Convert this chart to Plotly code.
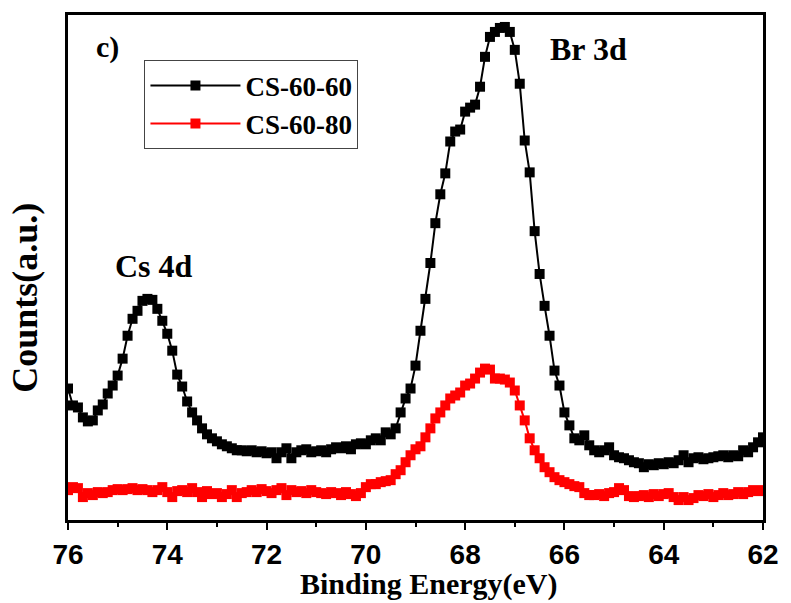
import plotly.graph_objects as go

# Binding energy grid (eV), 0.1 eV step from 76.0 down to 62.0
energy = [round(76.0 - 0.1 * i, 1) for i in range(141)]

cs_60_60 = [
    132, 115, 113, 103, 99, 100, 110, 116, 127, 135,
    145, 162, 185, 202, 210, 220, 222, 221, 212, 200,
    187, 170, 146, 134, 119, 108, 100, 92, 86, 82,
    79, 76, 74, 72, 70, 70, 69, 70, 68, 69,
    67, 68, 62, 68, 72, 62, 68, 70, 71, 68,
    69, 70, 68, 71, 73, 72, 74, 71, 76, 77,
    76, 80, 82, 80, 88, 86, 92, 108, 122, 132,
    155, 190, 222, 258, 298, 327, 348, 380, 390, 392,
    410, 414, 417, 435, 465, 485, 490, 494, 495, 490,
    472, 438, 381, 349, 290, 247, 215, 185, 150, 135,
    108, 95, 82, 80, 85, 75, 70, 68, 70, 73,
    65, 63, 62, 60, 58, 57, 53, 56, 55, 57,
    56, 58, 57, 60, 65, 58, 62, 63, 61, 62,
    63, 64, 65, 63, 65, 64, 70, 68, 73, 78,
    83,
]

cs_60_80 = [
    30, 33, 32, 23, 27, 25, 28, 27, 28, 30,
    31, 30, 31, 32, 30, 31, 30, 28, 30, 33,
    28, 23, 29, 30, 28, 32, 28, 23, 29, 26,
    27, 23, 26, 30, 23, 27, 28, 30, 28, 31,
    29, 27, 30, 32, 25, 30, 28, 29, 27, 30,
    28, 27, 26, 28, 27, 25, 28, 26, 24, 27,
    33, 36, 36, 38, 39, 40, 46, 50, 58, 65,
    71, 74, 83, 92, 102, 108, 115, 122, 125, 128,
    135, 137, 142, 148, 152, 151, 142, 142, 141, 138,
    130, 115, 100, 82, 70, 62, 53, 48, 43, 40,
    38, 36, 34, 33, 27, 25, 25, 26, 24, 27,
    28, 32, 30, 24, 23, 24, 25, 23, 26, 24,
    26, 27, 23, 20, 23, 20, 22, 25, 24, 26,
    23, 25, 27, 25, 26, 28, 26, 28, 30, 29,
    30,
]

series_names = ["CS-60-60", "CS-60-80"]
series_colors = ["#000000", "#ff0000"]
tick_vals = [76, 74, 72, 70, 68, 66, 64, 62]

assert len(energy) == len(cs_60_60) == len(cs_60_80)

fig = go.Figure()
for name, vals, col in zip(series_names, [cs_60_60, cs_60_80], series_colors):
    fig.add_trace(go.Scatter(
        x=energy, y=vals, name=name, mode="lines+markers",
        line=dict(color=col, width=2),
        marker=dict(symbol="square", size=10, color=col),
    ))

serif = "Liberation Serif, Times New Roman, serif"
sans = "Liberation Sans, Arial, sans-serif"

fig.update_layout(
    width=791, height=603,
    margin=dict(l=68, r=23, t=13, b=83),
    paper_bgcolor="white", plot_bgcolor="white",
    showlegend=True,
    legend=dict(
        x=0.11, y=0.91, xanchor="left", yanchor="top",
        bordercolor="#444", borderwidth=1, bgcolor="white",
        font=dict(family=serif, size=27, color="black", weight="bold"),
        itemwidth=90, tracegroupgap=0,
    ),
    xaxis=dict(
        range=[76, 62], autorange=False,
        tickvals=tick_vals, ticktext=[str(v) for v in tick_vals],
        ticks="outside", ticklen=7, tickwidth=2, tickcolor="black",
        minor=dict(dtick=1, ticks="outside", ticklen=4, tickwidth=2, tickcolor="black"),
        showline=True, linecolor="black", linewidth=3, mirror=True,
        showgrid=False, zeroline=False,
        tickfont=dict(family=sans, size=28, color="black", weight="bold"),
    ),
    yaxis=dict(
        range=[0, 507], autorange=False,
        showticklabels=False, ticks="",
        showline=True, linecolor="black", linewidth=3, mirror=True,
        showgrid=False, zeroline=False,
    ),
)

bold_serif = lambda s: dict(family=serif, size=s, color="black", weight="bold")

# axis titles
fig.add_annotation(text="Binding Energy(eV)", xref="paper", yref="paper",
                   x=0.52, y=-0.126, xanchor="center", yanchor="middle",
                   showarrow=False, font=bold_serif(30))
fig.add_annotation(text="Counts(a.u.)", xref="paper", yref="paper",
                   x=-0.062, y=0.44, xanchor="center", yanchor="middle",
                   textangle=-90, showarrow=False, font=bold_serif(36))

# panel label and peak labels
fig.add_annotation(text="c)", xref="paper", yref="paper", x=0.038, y=0.936,
                   xanchor="left", yanchor="middle", showarrow=False,
                   font=bold_serif(30))
fig.add_annotation(text="Cs 4d", x=74.26, y=255, xanchor="center", yanchor="middle",
                   showarrow=False, font=bold_serif(32))
fig.add_annotation(text="Br 3d", x=65.52, y=473, xanchor="center", yanchor="middle",
                   showarrow=False, font=bold_serif(32))

fig.write_html("out.html")
